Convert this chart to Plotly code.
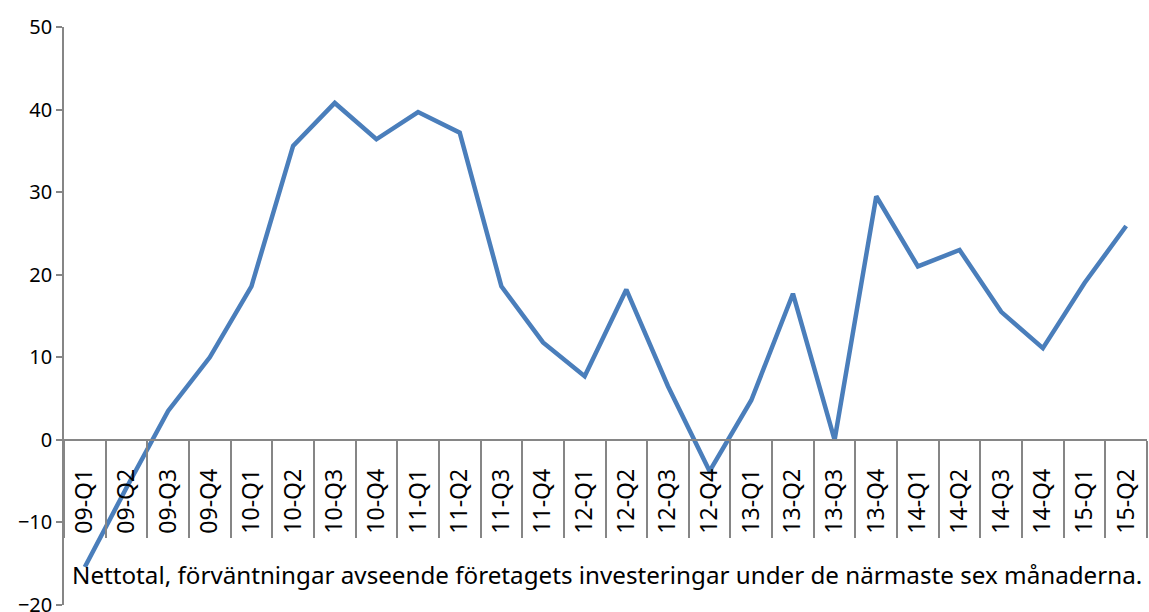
import plotly.graph_objects as go

categories = ["09-Q1", "09-Q2", "09-Q3", "09-Q4",
              "10-Q1", "10-Q2", "10-Q3", "10-Q4",
              "11-Q1", "11-Q2", "11-Q3", "11-Q4",
              "12-Q1", "12-Q2", "12-Q3", "12-Q4",
              "13-Q1", "13-Q2", "13-Q3", "13-Q4",
              "14-Q1", "14-Q2", "14-Q3", "14-Q4",
              "15-Q1", "15-Q2"]
values = [-15.4, -5.8, 3.5, 10.0,
          18.6, 35.6, 40.8, 36.4,
          39.7, 37.2, 18.6, 11.8,
          7.7, 18.2, 6.5, -3.8,
          4.8, 17.7, 0.0, 29.5,
          21.0, 23.0, 15.5, 11.1,
          19.0, 25.9]
y_ticks = [-20, -10, 0, 10, 20, 30, 40, 50]
caption = "Nettotal, förväntningar avseende företagets investeringar under de närmaste sex månaderna."

FONT = "Noto Sans"
y_min, y_max = -20, 50
zero_pos = (0 - y_min) / (y_max - y_min)

fig = go.Figure()
fig.add_trace(go.Scatter(
    x=categories, y=values, mode="lines",
    line=dict(color="#4a7ebb", width=4.5),
    xaxis="x", yaxis="y", showlegend=False,
))
# invisible trace on the overlay axis so its boundary ticks are drawn
fig.add_trace(go.Scatter(
    x=categories, y=values, mode="lines",
    line=dict(color="rgba(0,0,0,0)", width=0),
    xaxis="x2", yaxis="y", showlegend=False, hoverinfo="skip",
))

axis_line = "#868686"
fig.update_layout(
    width=1149, height=612,
    margin=dict(l=64, r=2, t=27, b=7, autoexpand=False),
    paper_bgcolor="white", plot_bgcolor="white",
    font=dict(family=FONT, color="#000000", size=20),
    xaxis=dict(
        type="category", categoryorder="array", categoryarray=categories,
        range=[-0.5, len(categories) - 0.5],
        anchor="free", position=zero_pos, automargin=False,
        showline=True, linecolor=axis_line, linewidth=1.5,
        ticks="outside", ticklen=19, tickcolor="rgba(0,0,0,0)",
        showgrid=False, zeroline=False,
        tickangle=-90, tickfont=dict(family=FONT, size=23, color="#000"),
    ),
    xaxis2=dict(
        type="category", categoryorder="array", categoryarray=categories,
        matches="x", overlaying="x",
        anchor="free", position=zero_pos, automargin=False,
        showline=False, showgrid=False, zeroline=False,
        ticks="outside", tickson="boundaries", ticklen=97,
        tickcolor=axis_line, tickwidth=1.5,
        showticklabels=False,
    ),
    yaxis=dict(
        range=[y_min, y_max], tickmode="array", tickvals=y_ticks,
        automargin=False,
        showline=True, linecolor=axis_line, linewidth=1.5,
        ticks="outside", ticklen=6, tickcolor=axis_line, tickwidth=1.5,
        showgrid=False, zeroline=False, ticklabeloverflow="allow",
        tickfont=dict(family=FONT, size=20, color="#000"),
    ),
    annotations=[dict(
        text=caption, xref="paper", yref="paper",
        x=0.006, y=0.052, xanchor="left", yanchor="middle",
        showarrow=False, font=dict(family=FONT, size=24.2, color="#000"),
    )],
)

fig.write_html("out.html", config={"displayModeBar": False},
               post_script="document.body.style.margin='0';")
